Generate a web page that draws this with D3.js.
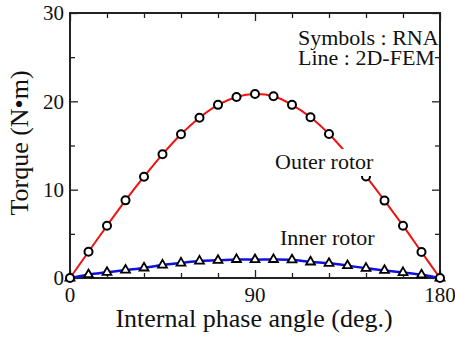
<!DOCTYPE html>
<html>
<head>
<meta charset="utf-8">
<script src="https://cdn.jsdelivr.net/npm/d3@7"></script>
<style>
  body { margin: 0; background: #fff; }
  text { font-family: "Liberation Serif", "Times New Roman", serif; fill: #111; }
</style>
</head>
<body>
<div id="chart"></div>
<script>
const svgWidth = 455;
const svgHeight = 337;

const margin = { top: 13, right: 15, bottom: 59, left: 70 };
const width = svgWidth - margin.left - margin.right;
const height = svgHeight - margin.top - margin.bottom;

// phase angles of the RNA symbols (deg.)
const angles = [0, 9, 18, 27, 36, 45, 54, 63, 72, 81, 90, 99, 108, 117, 126, 135, 144, 153, 162, 171, 180];
// torque (N·m)
const outerTorque = [0, 2.97, 5.92, 8.79, 11.47, 14.0, 16.27, 18.15, 19.6, 20.5, 20.83, 20.57, 19.6, 18.2, 16.3, 14.0, 11.5, 8.76, 5.92, 2.94, 0];
const innerTorque = [0, 0.38, 0.64, 0.9, 1.14, 1.47, 1.7, 1.92, 2.0, 2.1, 2.08, 2.1, 2.06, 1.82, 1.66, 1.4, 1.1, 0.86, 0.62, 0.36, 0];

const xMajorTicks = [0, 90, 180];
const xMinorTicks = [18, 36, 54, 72, 108, 126, 144, 162];
const yMajorTicks = [0, 10, 20, 30];
const yMinorTicks = [5, 15, 25];

const svg = d3.select("#chart")
  .append("svg")
  .attr("width", svgWidth)
  .attr("height", svgHeight);

const chartGroup = svg.append("g")
  .attr("transform", `translate(${margin.left}, ${margin.top})`);

const x = d3.scaleLinear().domain([0, 180]).range([0, width]);
const y = d3.scaleLinear().domain([0, 30]).range([height, 0]);

// ticks on all four sides, pointing inward
function tickAxis(axisFn, scale, values, size) {
  return axisFn(scale).tickValues(values).tickSizeInner(-size).tickSizeOuter(0).tickFormat("");
}

const axes = [
  [d3.axisBottom, x, `translate(0, ${height})`],
  [d3.axisTop, x, "translate(0, 0)"],
  [d3.axisLeft, y, "translate(0, 0)"],
  [d3.axisRight, y, `translate(${width}, 0)`]
];
axes.forEach(([fn, sc, tr]) => {
  const isX = sc === x;
  chartGroup.append("g").attr("transform", tr)
    .call(tickAxis(fn, sc, isX ? xMajorTicks : yMajorTicks, 8));
  chartGroup.append("g").attr("transform", tr)
    .call(tickAxis(fn, sc, isX ? xMinorTicks : yMinorTicks, 5));
});
chartGroup.selectAll(".domain").remove();
chartGroup.selectAll(".tick line").attr("stroke", "#222").attr("stroke-width", 1.3);

// frame
chartGroup.append("rect")
  .attr("width", width)
  .attr("height", height)
  .attr("fill", "none")
  .attr("stroke", "#222")
  .attr("stroke-width", 2);

// tick labels
chartGroup.selectAll(".xlab")
  .data(xMajorTicks)
  .enter()
  .append("text")
  .attr("x", d => x(d))
  .attr("y", height + 24)
  .attr("text-anchor", "middle")
  .attr("font-size", "21px")
  .text(d => d);

chartGroup.selectAll(".ylab")
  .data(yMajorTicks)
  .enter()
  .append("text")
  .attr("x", -6)
  .attr("y", d => y(d))
  .attr("dy", "0.35em")
  .attr("text-anchor", "end")
  .attr("font-size", "21px")
  .text(d => d);

// axis titles
chartGroup.append("text")
  .attr("x", width / 2 - 1)
  .attr("y", height + 49)
  .attr("text-anchor", "middle")
  .attr("font-size", "26px")
  .text("Internal phase angle (deg.)");

chartGroup.append("text")
  .attr("transform", "rotate(-90)")
  .attr("x", -130)
  .attr("y", -42)
  .attr("text-anchor", "middle")
  .attr("font-size", "26px")
  .text("Torque (N\u2022m)");

// FEM lines
const outerData = angles.map((a, i) => ({ a, v: outerTorque[i] }));
const innerData = angles.map((a, i) => ({ a, v: innerTorque[i] }));

const line = d3.line()
  .x(d => x(d.a))
  .y(d => y(d.v))
  .curve(d3.curveCatmullRom);

chartGroup.append("path")
  .datum(outerData)
  .attr("d", line)
  .attr("fill", "none")
  .attr("stroke", "#f01010")
  .attr("stroke-width", 2);

chartGroup.append("path")
  .datum(innerData)
  .attr("d", line)
  .attr("fill", "none")
  .attr("stroke", "#1010e0")
  .attr("stroke-width", 2.5);

// RNA symbols
chartGroup.selectAll(".tri")
  .data(innerData)
  .enter()
  .append("path")
  .attr("transform", d => `translate(${x(d.a)}, ${y(d.v)})`)
  .attr("d", d3.symbol(d3.symbolTriangle, 34)())
  .attr("fill", "#fff")
  .attr("stroke", "#000")
  .attr("stroke-width", 1.8);

chartGroup.selectAll(".circ")
  .data(outerData)
  .enter()
  .append("circle")
  .attr("cx", d => x(d.a))
  .attr("cy", d => y(d.v))
  .attr("r", 4)
  .attr("fill", "#fff")
  .attr("stroke", "#000")
  .attr("stroke-width", 2);

// curve labels (outer rotor label masks the curve behind it)
chartGroup.append("rect")
  .attr("x", 200)
  .attr("y", 136)
  .attr("width", 110)
  .attr("height", 27)
  .attr("fill", "#fff");

chartGroup.append("text")
  .attr("x", 205)
  .attr("y", 156)
  .attr("font-size", "22px")
  .text("Outer rotor");

chartGroup.append("text")
  .attr("x", 210)
  .attr("y", 232)
  .attr("font-size", "22px")
  .text("Inner rotor");

// legend
chartGroup.append("text")
  .attr("x", 228)
  .attr("y", 32)
  .attr("font-size", "22px")
  .text("Symbols : RNA");

chartGroup.append("text")
  .attr("x", 228)
  .attr("y", 52)
  .attr("font-size", "22px")
  .text("Line : 2D-FEM");
</script>
</body>
</html>
